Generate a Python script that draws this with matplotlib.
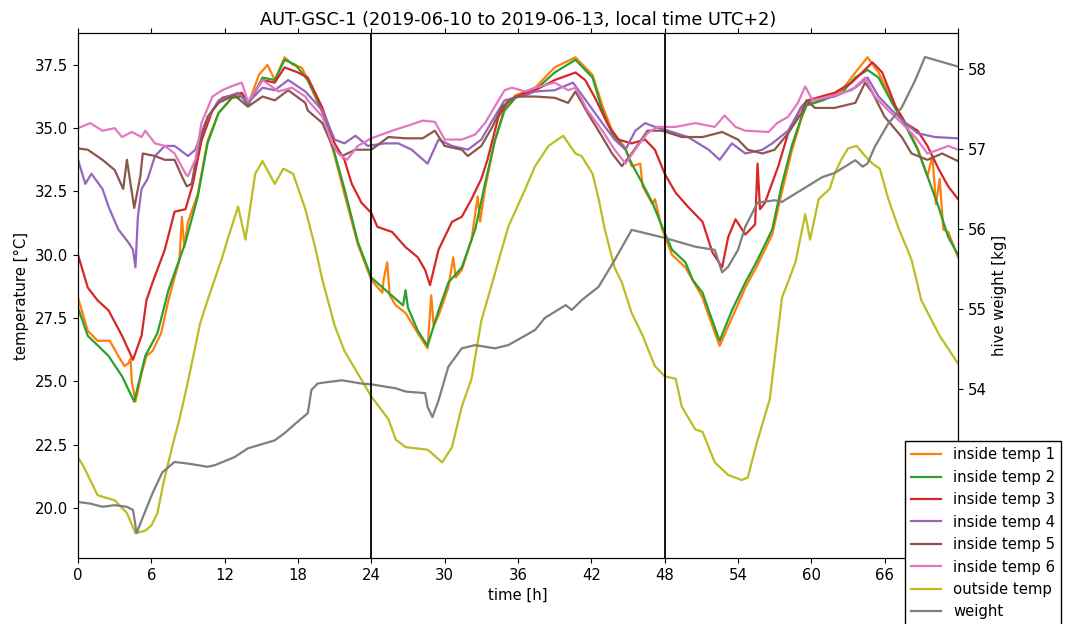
import matplotlib
matplotlib.use("Agg")
import matplotlib.pyplot as plt

# ---- data (hours, values) ----
t1 = [0, 0.8, 1.6, 2.6, 3.3, 3.8, 4.1, 4.3, 4.4, 4.7, 5.2, 5.6, 6.1, 6.8, 7.4, 7.9, 8.3, 8.5, 8.7, 9.0, 9.8,
      10.6, 11.5, 12.6, 13.4, 13.9, 14.8, 15.5, 16.1, 16.9, 17.6, 18.3, 18.8, 20.0, 21.0, 21.8, 22.9, 24.0,
      24.9, 25.0, 25.3, 25.5, 26.0, 26.8, 27.8, 28.6, 28.9, 29.1, 29.5, 30.3, 30.7, 30.9, 31.4, 32.2, 32.7,
      32.9, 33.3, 34.1, 34.9, 35.8, 37.4, 39.0, 40.7, 41.5, 42.1, 42.9, 43.7, 44.8, 45.3, 46.0, 46.2, 47.0,
      47.2, 47.8, 48.6, 49.7, 51.1, 51.6, 52.5, 53.5, 54.6, 55.6, 56.8, 57.6, 58.4, 59.2, 59.6, 60.9, 62.5,
      63.6, 64.6, 65.5, 66.6, 67.7, 68.7, 69.5, 69.9, 70.2, 70.5, 70.8, 71.2, 72.0]
temp1 = [28.3, 27.0, 26.6, 26.6, 26.0, 25.6, 25.7, 25.9, 25.0, 24.2, 25.3, 26.0, 26.2, 26.9, 28.2, 29.1, 29.8,
         31.5, 30.3, 31.3, 32.4, 34.5, 35.6, 36.2, 36.3, 35.9, 37.1, 37.5, 36.9, 37.8, 37.5, 37.4, 36.9, 35.6,
         33.9, 32.4, 30.4, 29.0, 28.5, 29.0, 29.7, 28.4, 28.0, 27.7, 26.9, 26.3, 28.4, 27.2, 27.6, 28.7, 29.9,
         29.1, 29.4, 30.6, 32.3, 31.3, 32.6, 34.5, 35.8, 36.3, 36.6, 37.4, 37.8, 37.4, 37.1, 35.9, 34.9, 34.2,
         33.5, 33.6, 32.7, 32.0, 32.2, 31.0, 30.0, 29.5, 28.3, 27.6, 26.4, 27.5, 28.7, 29.6, 30.8, 32.5, 34.1,
         35.4, 35.9, 36.1, 36.5, 37.2, 37.8, 37.2, 36.1, 35.2, 34.2, 33.1, 33.9, 32.0, 33.0, 31.0, 30.9, 29.9]

t2 = [0, 0.8, 2.5, 3.6, 4.6, 5.5, 6.5, 7.4, 8.8, 9.8, 10.6, 11.5, 12.6, 13.4, 13.9, 15.1, 16.1, 16.9, 17.8,
      18.8, 20.0, 21.0, 21.8, 22.9, 24.0, 25.4, 26.6, 26.8, 27.0, 27.8, 28.6, 29.5, 30.3, 31.4, 32.5, 33.3,
      34.1, 34.9, 35.8, 37.4, 39.0, 40.7, 42.1, 42.9, 43.7, 44.8, 45.3, 46.2, 47.0, 47.8, 48.6, 49.7, 50.3,
      51.1, 51.6, 52.5, 53.5, 54.6, 55.6, 56.8, 57.6, 58.4, 59.2, 59.6, 60.9, 62.5, 63.6, 64.6, 65.5, 66.6,
      67.7, 68.7, 69.5, 70.4, 71.2, 72.0]
temp2 = [27.9, 26.8, 26.0, 25.2, 24.2, 26.0, 26.9, 28.6, 30.5, 32.3, 34.4, 35.6, 36.2, 36.25, 35.9, 37.0,
         36.9, 37.7, 37.5, 36.9, 35.7, 34.0, 32.6, 30.5, 29.1, 28.5, 28.0, 28.6, 27.9, 27.0, 26.4, 27.8, 28.9,
         29.5, 31.0, 32.8, 34.5, 35.7, 36.2, 36.5, 37.2, 37.7, 37.0, 35.7, 34.8, 34.15, 33.6, 32.8, 32.05,
         31.1, 30.2, 29.7, 29.0, 28.5, 27.8, 26.6, 27.8, 28.9, 29.8, 31.0, 32.8, 34.3, 35.45, 35.9, 36.1,
         36.4, 37.0, 37.3, 37.0, 36.0, 35.1, 34.15, 33.1, 31.9, 30.7, 30.0]

t3 = [0, 0.8, 1.6, 2.5, 3.6, 4.5, 5.2, 5.6, 6.1, 7.1, 7.9, 8.8, 9.4, 10.1, 11.0, 11.8, 13.4, 13.9, 15.1, 16.1,
      16.9, 18.0, 18.8, 20.0, 21.0, 21.8, 22.4, 23.2, 24.0, 24.5, 25.7, 26.8, 27.8, 28.4, 28.8, 29.5, 30.6,
      31.4, 32.2, 33.0, 33.5, 34.4, 35.2, 36.6, 37.4, 39.0, 40.7, 41.5, 42.3, 43.4, 44.2, 45.3, 46.4, 47.2,
      48.0, 48.9, 49.9, 51.1, 51.9, 52.7, 53.2, 53.8, 54.6, 55.4, 55.6, 55.8, 56.2, 57.3, 58.1, 59.2, 59.7,
      61.9, 63.3, 65.0, 65.8, 66.9, 67.7, 68.7, 69.5, 70.4, 71.2, 72.0]
temp3 = [30.0, 28.7, 28.2, 27.8, 26.8, 25.85, 26.8, 28.2, 28.9, 30.2, 31.7, 31.8, 32.8, 34.5, 35.7, 36.2,
         36.4, 36.0, 36.9, 36.8, 37.4, 37.2, 37.0, 35.8, 34.4, 33.75, 32.8, 32.05, 31.65, 31.1, 30.9, 30.3,
         29.9, 29.4, 28.8, 30.2, 31.3, 31.5, 32.2, 33.0, 33.75, 35.45, 36.1, 36.4, 36.5, 36.9, 37.2, 36.9,
         36.2, 35.1, 34.55, 34.4, 34.55, 34.15, 33.2, 32.45, 31.9, 31.3, 30.1, 29.5, 30.7, 31.4, 30.8, 31.2,
         33.6, 31.8, 32.05, 33.5, 34.8, 35.85, 36.1, 36.4, 36.8, 37.6, 37.2, 35.85, 35.2, 34.9, 34.3, 33.4,
         32.7, 32.2]

t4 = [0, 0.6, 1.1, 2.0, 2.5, 3.3, 4.1, 4.5, 4.7, 4.9, 5.2, 5.7, 6.3, 7.1, 7.9, 9.0, 9.6, 10.4, 11.5, 13.1,
      13.9, 15.1, 16.1, 17.2, 18.6, 20.0, 21.0, 21.8, 22.7, 23.7, 25.1, 26.2, 27.3, 28.6, 29.5, 30.6, 31.9,
      33.0, 33.9, 34.9, 36.6, 37.4, 39.0, 40.5, 41.7, 42.9, 43.9, 44.8, 45.6, 46.4, 47.2, 48.3, 49.9, 51.6,
      52.5, 53.5, 54.6, 56.0, 56.8, 58.1, 59.2, 60.1, 61.9, 63.6, 64.6, 65.5, 66.6, 67.7, 68.7, 70.1, 72.0]
temp4 = [33.75, 32.8, 33.2, 32.6, 31.9, 31.0, 30.5, 30.2, 29.5, 31.5, 32.6, 33.0, 33.9, 34.3, 34.3, 33.9,
         34.15, 35.2, 36.1, 36.4, 36.0, 36.6, 36.5, 36.9, 36.45, 35.7, 34.55, 34.4, 34.7, 34.3, 34.4, 34.4,
         34.15, 33.6, 34.55, 34.3, 34.15, 34.55, 35.3, 36.1, 36.3, 36.45, 36.5, 36.8, 36.0, 35.2, 34.55,
         34.15, 34.9, 35.2, 35.05, 34.9, 34.65, 34.15, 33.75, 34.4, 34.0, 34.15, 34.4, 34.9, 35.85, 36.1,
         36.25, 36.6, 37.0, 36.25, 35.7, 35.2, 34.8, 34.65, 34.6]

t5 = [0, 0.8, 2.0, 3.0, 3.7, 4.0, 4.3, 4.6, 5.1, 5.3, 6.3, 7.1, 7.9, 8.5, 8.9, 9.3, 9.8, 10.6, 11.5, 12.8,
      13.9, 15.1, 16.1, 17.2, 18.6, 18.8, 20.0, 20.8, 21.6, 22.7, 24.0, 25.4, 26.8, 28.2, 29.2, 30.0, 31.4,
      31.9, 33.0, 33.9, 34.7, 35.8, 37.4, 39.0, 40.1, 40.7, 41.7, 42.9, 43.7, 44.5, 45.3, 46.6, 47.8, 49.4,
      51.1, 52.7, 54.0, 54.8, 56.0, 57.0, 58.1, 59.2, 59.6, 60.3, 61.9, 63.6, 64.4, 65.0, 66.0, 67.4, 68.2,
      69.5, 70.7, 72.0]
temp5 = [34.2, 34.15, 33.75, 33.35, 32.6, 33.75, 32.8, 31.85, 33.1, 34.0, 33.9, 33.75, 33.75, 33.1, 32.7,
         32.8, 34.15, 35.45, 36.0, 36.3, 35.85, 36.25, 36.1, 36.5, 36.0, 35.7, 35.2, 34.3, 33.9, 34.15,
         34.15, 34.65, 34.6, 34.6, 34.9, 34.3, 34.15, 33.9, 34.3, 35.05, 35.85, 36.25, 36.25, 36.2, 36.0,
         36.45, 35.6, 34.65, 34.0, 33.5, 34.0, 34.9, 34.9, 34.65, 34.65, 34.85, 34.55, 34.15, 34.0, 34.15,
         34.8, 35.6, 36.1, 35.8, 35.8, 36.0, 36.8, 36.4, 35.45, 34.65, 34.0, 33.75, 34.0, 33.7]

t6 = [0, 1.0, 2.0, 3.0, 3.6, 4.4, 5.2, 5.5, 6.3, 7.1, 7.9, 8.8, 9.0, 9.6, 10.1, 11.0, 11.8, 12.8, 13.4, 13.9,
      15.1, 16.4, 17.5, 18.6, 18.8, 20.0, 20.8, 21.3, 22.0, 22.9, 24.0, 25.7, 27.0, 28.2, 29.2, 30.0, 31.4,
      32.5, 33.3, 34.1, 34.9, 35.5, 36.6, 37.4, 39.0, 40.1, 40.7, 41.7, 42.9, 43.9, 44.8, 45.8, 46.6, 47.4,
      48.9, 50.5, 52.1, 52.9, 53.8, 54.6, 56.5, 57.2, 58.1, 58.9, 59.5, 60.1, 61.9, 63.3, 64.4, 65.2, 66.3,
      67.4, 68.5, 69.5, 70.4, 71.2, 72.0]
temp6 = [35.0, 35.2, 34.9, 35.0, 34.65, 34.85, 34.65, 34.9, 34.4, 34.3, 34.0, 33.2, 33.1, 33.75, 35.2,
         36.25, 36.5, 36.7, 36.8, 36.05, 36.9, 36.45, 36.6, 36.25, 36.1, 35.45, 34.4, 34.0, 33.75, 34.3,
         34.6, 34.9, 35.1, 35.3, 35.25, 34.55, 34.55, 34.75, 35.2, 35.85, 36.5, 36.6, 36.45, 36.6, 36.8,
         36.5, 36.6, 35.7, 34.9, 34.15, 33.6, 34.3, 34.8, 35.05, 35.05, 35.2, 35.05, 35.5, 35.05, 34.9,
         34.85, 35.2, 35.45, 36.0, 36.65, 36.1, 36.3, 36.5, 37.0, 36.25, 35.7, 35.2, 34.65, 34.0, 34.15,
         34.3, 34.15]

t_out = [0, 0.5, 1.6, 3.0, 4.0, 4.7, 5.5, 6.0, 6.5, 7.0, 7.7, 8.3, 9.0, 10.0, 10.6, 11.8, 12.3, 13.1, 13.7,
         14.5, 15.1, 16.1, 16.8, 17.6, 18.6, 19.4, 20.0, 21.0, 21.8, 22.9, 24.0, 25.4, 26.0, 26.8, 28.6, 29.8,
         30.6, 31.4, 32.2, 33.0, 33.9, 35.2, 36.6, 37.4, 38.5, 39.7, 40.7, 41.2, 42.1, 42.6, 43.1, 43.9, 44.5,
         45.3, 46.2, 47.2, 48.0, 48.9, 49.4, 50.5, 51.1, 52.1, 53.2, 54.3, 54.8, 55.5, 56.6, 57.6, 58.7, 59.5,
         59.9, 60.6, 61.5, 61.9, 62.5, 63.0, 63.7, 64.4, 65.0, 65.6, 66.3, 67.1, 68.2, 69.0, 70.5, 72.0]
temp_out = [22.0, 21.6, 20.5, 20.3, 19.8, 19.0, 19.1, 19.3, 19.8, 21.0, 22.4, 23.5, 25.0, 27.3, 28.2, 29.9,
            30.7, 31.9, 30.6, 33.2, 33.7, 32.8, 33.4, 33.2, 31.8, 30.3, 29.0, 27.2, 26.2, 25.3, 24.4, 23.5,
            22.7, 22.4, 22.3, 21.8, 22.4, 24.0, 25.1, 27.4, 28.9, 31.1, 32.6, 33.5, 34.3, 34.7, 34.0, 33.9,
            33.2, 32.2, 31.0, 29.5, 28.9, 27.7, 26.8, 25.6, 25.2, 25.1, 24.0, 23.1, 23.0, 21.8, 21.3, 21.1,
            21.2, 22.5, 24.3, 28.3, 29.7, 31.6, 30.6, 32.2, 32.6, 33.2, 33.8, 34.2, 34.3, 33.9, 33.6, 33.4,
            32.2, 31.1, 29.8, 28.2, 26.8, 25.7]

t_w = [0, 1.0, 2.0, 3.0, 4.0, 4.5, 4.8, 5.2, 6.1, 6.9, 7.9, 9.0, 10.6, 11.2, 12.8, 13.9, 16.1, 16.9, 17.8,
       18.8, 19.1, 19.6, 20.5, 21.6, 23.2, 24.0, 26.0, 26.8, 28.4, 28.6, 29.0, 29.5, 30.3, 31.4, 32.5, 34.1,
       35.2, 36.6, 37.4, 38.2, 39.9, 40.4, 41.2, 42.6, 43.9, 45.3, 48.0, 50.5, 52.1, 52.7, 53.2, 54.0, 54.6,
       55.6, 57.0, 57.6, 59.2, 60.9, 61.9, 63.6, 64.2, 64.6, 65.2, 66.3, 67.4, 68.5, 69.3, 72.0]
weight = [52.59, 52.57, 52.53, 52.55, 52.53, 52.49, 52.2, 52.36, 52.7, 52.96, 53.09, 53.07, 53.03, 53.05,
          53.15, 53.26, 53.36, 53.45, 53.57, 53.7, 53.99, 54.07, 54.09, 54.11, 54.07, 54.06, 54.01, 53.97,
          53.95, 53.78, 53.65, 53.86, 54.28, 54.51, 54.55, 54.51, 54.55, 54.67, 54.74, 54.89, 55.05, 54.99,
          55.11, 55.28, 55.61, 55.99, 55.89, 55.78, 55.74, 55.46, 55.53, 55.74, 56.03, 56.33, 56.36, 56.34,
          56.49, 56.65, 56.7, 56.86, 56.78, 56.82, 57.03, 57.32, 57.52, 57.86, 58.15, 58.03]

labels = ["inside temp 1", "inside temp 2", "inside temp 3", "inside temp 4",
          "inside temp 5", "inside temp 6", "outside temp", "weight"]
x_ticks = list(range(0, 73, 6))
x_tick_labels = [str(v) for v in range(0, 67, 6)] + [""]  # 72 is hidden behind the legend
day_marks = [24, 48]

fs = 10.7
plt.rcParams['font.family'] = ['DejaVu Sans']
plt.rcParams['font.size'] = fs

fig = plt.figure(figsize=(10.65, 6.24), dpi=100)
ax = fig.add_axes([78 / 1065, 1 - 558 / 624, 880 / 1065, 525 / 624])
ax2 = ax.twinx()

lw = 1.6
series = [(t1, temp1, 'tab:orange'), (t2, temp2, 'tab:green'), (t3, temp3, 'tab:red'),
          (t4, temp4, 'tab:purple'), (t5, temp5, 'tab:brown'), (t6, temp6, 'tab:pink'),
          (t_out, temp_out, 'tab:olive')]
handles = []
for (tt, vv, c), lab in zip(series, labels[:7]):
    h, = ax.plot(tt, vv, color=c, lw=lw, label=lab)
    handles.append(h)
hw, = ax2.plot(t_w, weight, color='tab:gray', lw=lw, label=labels[7])
handles.append(hw)
for d in day_marks:
    ax2.axvline(d, color='black', lw=1.3, zorder=5)

ax.set_xlim(0, 72)
ax.set_ylim(18.02, 38.76)
ax2.set_ylim(51.89, 58.45)
ax.set_xticks(x_ticks)
ax.set_xticklabels(x_tick_labels)
ax.set_yticks([20.0, 22.5, 25.0, 27.5, 30.0, 32.5, 35.0, 37.5])
ax.set_yticklabels(["20.0", "22.5", "25.0", "27.5", "30.0", "32.5", "35.0", "37.5"])
ax2.set_yticks([54, 55, 56, 57, 58])
ax.tick_params(top=True)
ax.set_xlabel("time [h]")
ax.set_ylabel("temperature [°C]")
ax2.set_ylabel("hive weight [kg]")
ax.set_title("AUT-GSC-1 (2019-06-10 to 2019-06-13, local time UTC+2)", fontsize=12.8)

leg = fig.legend(handles=handles, labels=labels, loc='upper left',
                 bbox_to_anchor=(898 / 1065, 1 - 434 / 624), fancybox=False,
                 edgecolor='black', framealpha=1, fontsize=fs)
leg.get_frame().set_linewidth(1.0)

fig.savefig("out.png", dpi=100)
